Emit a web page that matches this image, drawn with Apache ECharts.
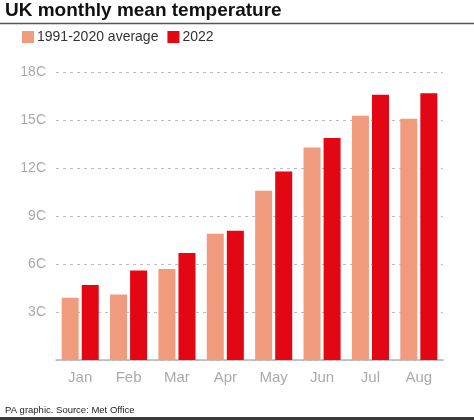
<!DOCTYPE html>
<html>
<head>
<meta charset="utf-8">
<script src="https://cdn.jsdelivr.net/npm/echarts@6/dist/echarts.min.js"></script>
<style>
  html, body { margin: 0; padding: 0; background: #fff; }
  #chart { width: 474px; height: 420px; }
</style>
</head>
<body>
<div id="chart"></div>
<script>
// 数据
var months = ['Jan', 'Feb', 'Mar', 'Apr', 'May', 'Jun', 'Jul', 'Aug'];
var avg9120 = [3.9, 4.1, 5.7, 7.9, 10.6, 13.3, 15.3, 15.1];
var temp2022 = [4.7, 5.6, 6.7, 8.1, 11.8, 13.9, 16.6, 16.7];
var seriesNames = ['1991-2020 average', '2022'];
var colors = ['#f09a7e', '#e30613'];

var myChart = echarts.init(document.getElementById('chart'));

var option = {
  animation: false,
  color: colors,
  textStyle: { fontFamily: 'Liberation Sans, Arial, sans-serif' },
  legend: {
    left: 17,
    top: 25,
    itemWidth: 12,
    itemHeight: 12,
    itemGap: 9,
    icon: 'rect',
    textStyle: { fontSize: 14, color: '#333', padding: [0, 0, 0, -2] },
    data: seriesNames
  },
  grid: {
    left: 56,
    right: 31,
    top: 72.5,
    bottom: 60
  },
  xAxis: {
    type: 'category',
    data: months,
    axisLine: { lineStyle: { color: '#b5b5b5', width: 1.5 } },
    axisTick: { show: false },
    axisLabel: { color: '#aaa', fontSize: 15, margin: 10 }
  },
  yAxis: {
    type: 'value',
    min: 0,
    max: 18,
    interval: 3,
    axisLine: { show: false },
    axisTick: { show: false },
    axisLabel: {
      color: '#aaa',
      fontSize: 14,
      margin: 10,
      formatter: function (v) { return v === 0 ? '' : v + 'C'; }
    },
    splitLine: {
      lineStyle: { color: '#b9bdc5', type: [3, 4], width: 1 }
    }
  },
  series: [
    {
      name: seriesNames[0],
      type: 'bar',
      barWidth: 17,
      barGap: '18%',
      data: avg9120
    },
    {
      name: seriesNames[1],
      type: 'bar',
      barWidth: 17,
      barGap: '18%',
      data: temp2022
    }
  ],
  graphic: [
    {
      type: 'text',
      left: 5,
      top: 1,
      style: {
        text: 'UK monthly mean temperature',
        font: 'bold 19px Liberation Sans, Arial, sans-serif',
        fill: '#111'
      }
    },
    {
      type: 'line',
      shape: { x1: 0, y1: 23.5, x2: 474, y2: 23.5 },
      style: { stroke: '#555', lineWidth: 1.5 }
    },
    {
      type: 'text',
      left: 5,
      top: 405,
      style: {
        text: 'PA graphic. Source: Met Office',
        font: '9.5px Liberation Sans, Arial, sans-serif',
        fill: '#222'
      }
    },
    {
      type: 'rect',
      shape: { x: 0, y: 417, width: 474, height: 3 },
      style: { fill: '#3a3a3a' }
    }
  ]
};

myChart.setOption(option, true);
</script>
</body>
</html>
